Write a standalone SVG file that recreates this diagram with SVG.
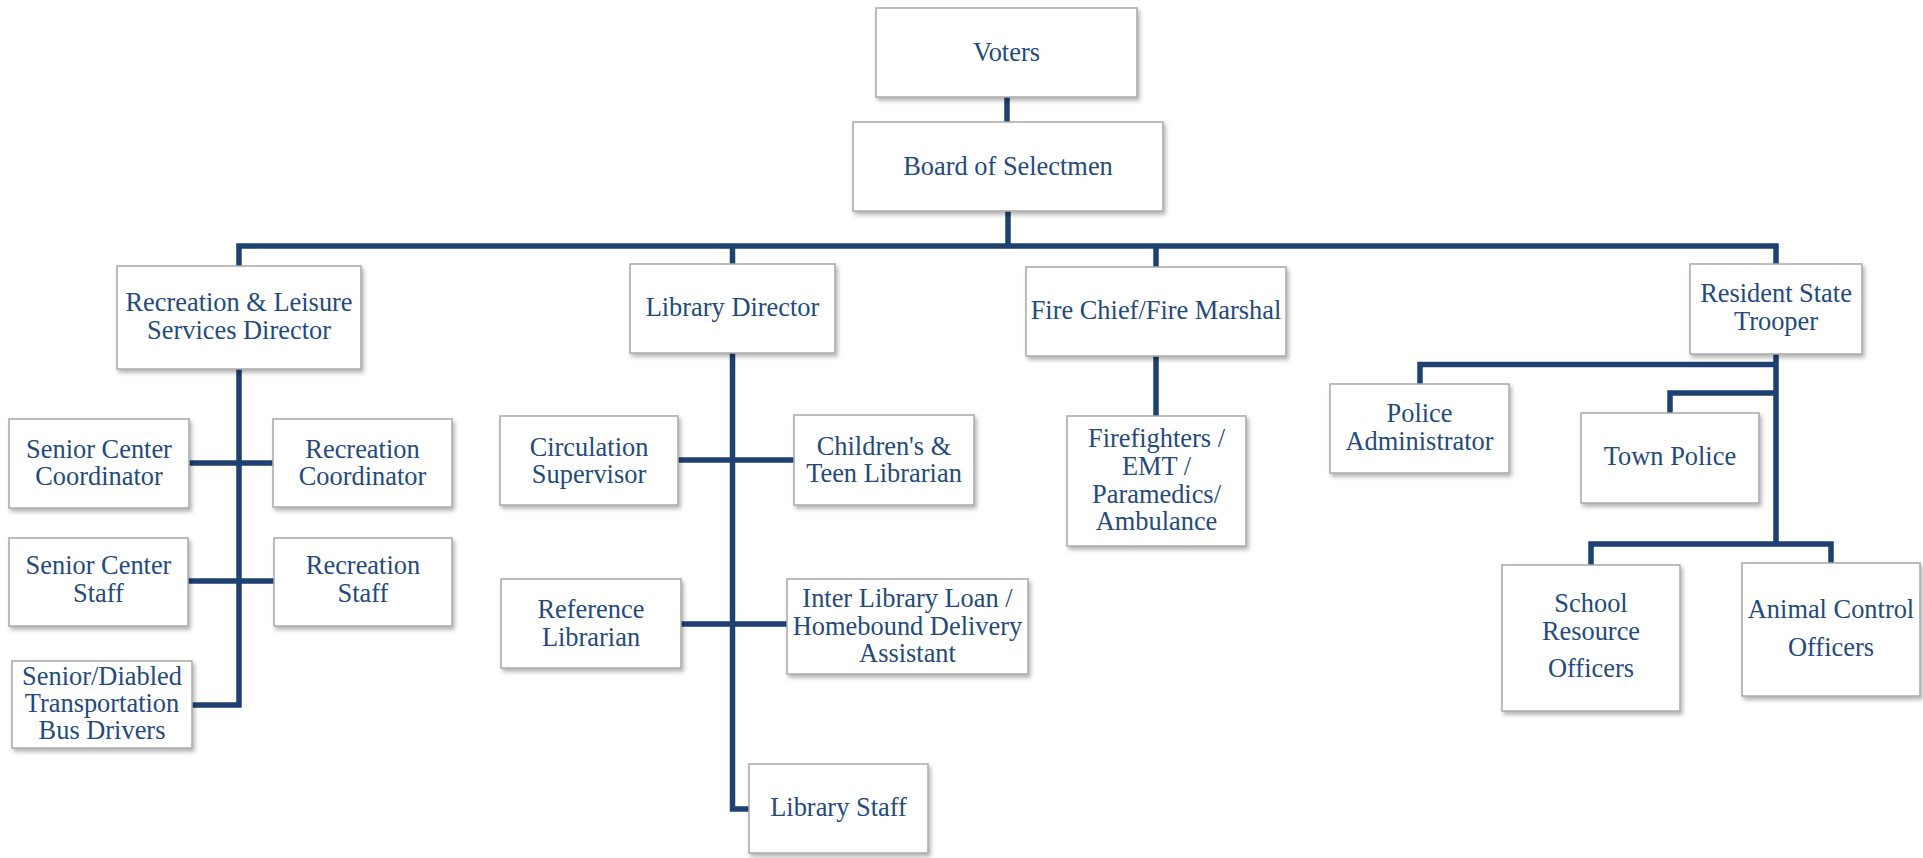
<svg xmlns="http://www.w3.org/2000/svg" width="1923" height="858" viewBox="0 0 1923 858">
<style>
.box{fill:#fff;stroke:#a8a8a8;stroke-width:1.5;filter:url(#sh)}
.t{font-family:"Liberation Serif","Times New Roman",serif;font-size:26.4px;fill:#244a7c;text-anchor:middle}
.c{fill:none;stroke:#1d4171;stroke-width:5.5;stroke-linejoin:miter}
</style>
<defs>
<filter id="sh" x="-10%" y="-10%" width="130%" height="140%">
<feDropShadow dx="2" dy="3" stdDeviation="2" flood-color="#000" flood-opacity="0.3"/>
</filter>
</defs>
<rect width="1923" height="858" fill="#fff"/>
<g id="connectors">
<path class="c" d="M1007 97V122"/>
<path class="c" d="M1008 211V246"/>
<path class="c" d="M239 266V246H1776V264"/>
<path class="c" d="M732.5 246V264"/>
<path class="c" d="M1156 246V267"/>
<path class="c" d="M239 369V705H192"/>
<path class="c" d="M189 463H273"/>
<path class="c" d="M188 581H274"/>
<path class="c" d="M732.5 353V809H749"/>
<path class="c" d="M678 460H794"/>
<path class="c" d="M681 624H787"/>
<path class="c" d="M1156 356V416"/>
<path class="c" d="M1776 354V544"/>
<path class="c" d="M1420 384V364.5H1776"/>
<path class="c" d="M1670 413V393H1776"/>
<path class="c" d="M1591 565V544H1831V563"/>
</g>
<g id="voters"><rect class="box" x="876" y="8" width="261" height="89"/><text class="t" x="1006.5" y="61">Voters</text></g>
<g id="board"><rect class="box" x="853" y="122" width="310" height="89"/><text class="t" x="1008" y="175">Board of Selectmen</text></g>
<g id="recreation-director"><rect class="box" x="117" y="266" width="244" height="103"/><text class="t" x="239" y="311">Recreation &amp; Leisure</text><text class="t" x="239" y="339">Services Director</text></g>
<g id="library-director"><rect class="box" x="630" y="264" width="205" height="89"/><text class="t" x="732.5" y="316">Library Director</text></g>
<g id="fire-chief"><rect class="box" x="1026" y="267" width="260" height="89"/><text class="t" x="1156" y="319">Fire Chief/Fire Marshal</text></g>
<g id="trooper"><rect class="box" x="1690" y="264" width="172" height="90"/><text class="t" x="1776" y="302">Resident State</text><text class="t" x="1776" y="330">Trooper</text></g>
<g id="senior-coordinator"><rect class="box" x="9" y="419" width="180" height="89"/><text class="t" x="99" y="458">Senior Center</text><text class="t" x="99" y="485">Coordinator</text></g>
<g id="recreation-coordinator"><rect class="box" x="273" y="419" width="179" height="88"/><text class="t" x="362.5" y="458">Recreation</text><text class="t" x="362.5" y="485">Coordinator</text></g>
<g id="senior-staff"><rect class="box" x="9" y="538" width="179" height="88"/><text class="t" x="98.5" y="574">Senior Center</text><text class="t" x="98.5" y="602">Staff</text></g>
<g id="recreation-staff"><rect class="box" x="274" y="538" width="178" height="88"/><text class="t" x="363" y="574">Recreation</text><text class="t" x="363" y="602">Staff</text></g>
<g id="bus-drivers"><rect class="box" x="12" y="661" width="180" height="87"/><text class="t" x="102" y="685">Senior/Diabled</text><text class="t" x="102" y="712">Transportation</text><text class="t" x="102" y="739">Bus Drivers</text></g>
<g id="circulation"><rect class="box" x="500" y="416" width="178" height="89"/><text class="t" x="589" y="455.5">Circulation</text><text class="t" x="589" y="482.5">Supervisor</text></g>
<g id="childrens"><rect class="box" x="794" y="415" width="180" height="90"/><text class="t" x="884" y="454.5">Children's &amp;</text><text class="t" x="884" y="481.5">Teen Librarian</text></g>
<g id="reference"><rect class="box" x="501" y="579" width="180" height="89"/><text class="t" x="591" y="618">Reference</text><text class="t" x="591" y="646">Librarian</text></g>
<g id="interlibrary"><rect class="box" x="787" y="579" width="241" height="95"/><text class="t" x="907.5" y="607">Inter Library Loan /</text><text class="t" x="907.5" y="634.5">Homebound Delivery</text><text class="t" x="907.5" y="662">Assistant</text></g>
<g id="library-staff"><rect class="box" x="749" y="764" width="179" height="89"/><text class="t" x="838.5" y="816">Library Staff</text></g>
<g id="firefighters"><rect class="box" x="1067" y="416" width="179" height="130"/><text class="t" x="1156.5" y="447">Firefighters /</text><text class="t" x="1156.5" y="475">EMT /</text><text class="t" x="1156.5" y="503">Paramedics/</text><text class="t" x="1156.5" y="530">Ambulance</text></g>
<g id="police-admin"><rect class="box" x="1330" y="384" width="179" height="89"/><text class="t" x="1419.5" y="422">Police</text><text class="t" x="1419.5" y="450">Administrator</text></g>
<g id="town-police"><rect class="box" x="1581" y="413" width="178" height="90"/><text class="t" x="1670" y="465">Town Police</text></g>
<g id="school-resource"><rect class="box" x="1502" y="565" width="178" height="146"/><text class="t" x="1591" y="612">School</text><text class="t" x="1591" y="640">Resource</text><text class="t" x="1591" y="677">Officers</text></g>
<g id="animal-control"><rect class="box" x="1742" y="563" width="178" height="133"/><text class="t" x="1831" y="618">Animal Control</text><text class="t" x="1831" y="656">Officers</text></g>
</svg>
